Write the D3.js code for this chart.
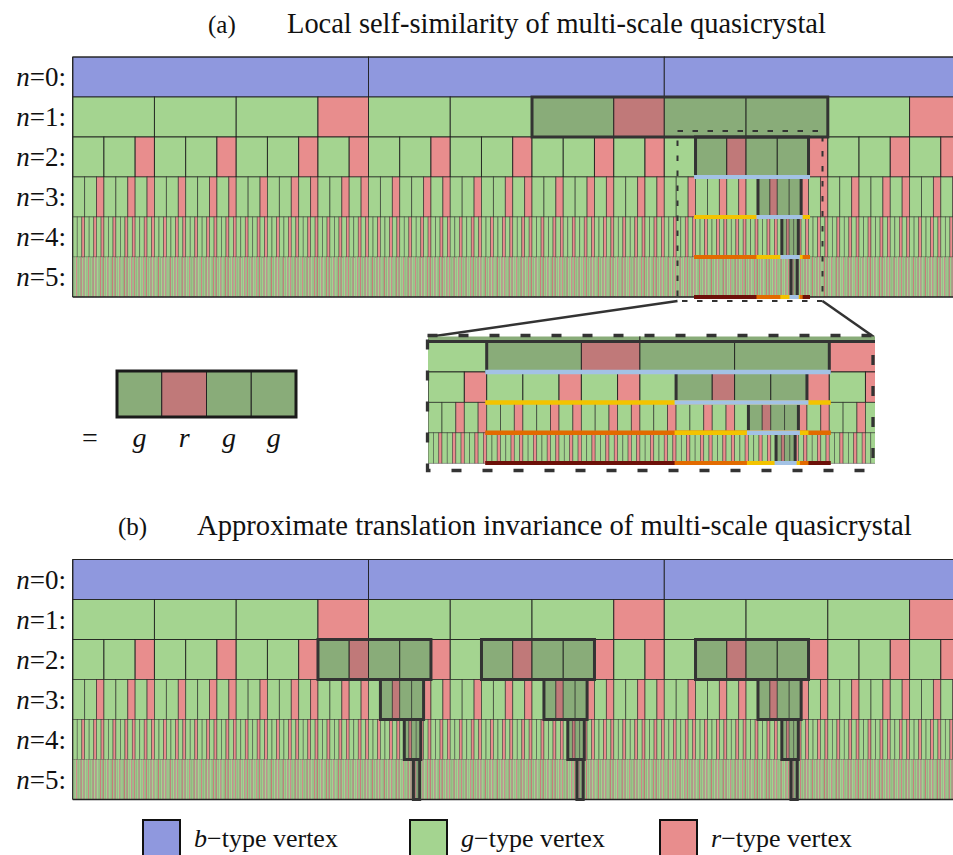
<!DOCTYPE html>
<html><head><meta charset="utf-8">
<script src="https://cdn.jsdelivr.net/npm/d3@7"></script>
<style>body{margin:0;background:#fff;overflow:hidden} svg{display:block}</style>
</head><body>
<svg id="c" width="953" height="855"></svg>
<script>
// ---------------- data ----------------
const levels = [0, 1, 2, 3, 4, 5];
const topSequence = ["b", "b", "b"];
const substitution = { b: ["g", "g", "g", "r"], g: ["g", "g", "r"], r: ["g", "r"] };
const tileWeight = { g: 1.618, r: 1 };           // relative tile lengths at finest level
const motif = ["g", "r", "g", "g"];              // highlighted pattern
const motifChildSlice = [6, 10];                 // motif position among the motif's children
const highlightA = { level: 1, start: 6 };
const highlightsB = [{ level: 2, start: 9 }, { level: 2, start: 15 }, { level: 2, start: 23 }];
const lineColors = ["#a3c2e5", "#f3c300", "#e26b00", "#6d1109"];
const typeColors = { b: "#8f98de", g: "#a4d490", r: "#e88d8d" };
const darkColors = { b: "#757dba", g: "#89ac79", r: "#c07979" };
const titles = [
  { tag: "(a)", text: "Local self-similarity of multi-scale quasicrystal" },
  { tag: "(b)", text: "Approximate translation invariance of multi-scale quasicrystal" }
];
const legendTypes = ["b", "g", "r"];
const legendSuffix = "\u2212type vertex";

const serif = "'Liberation Serif', 'DejaVu Serif', serif";

// ---------------- structure ----------------
function build(type, n) {
  return n === 5 ? { type } : { type, children: substitution[type].map(t => build(t, n + 1)) };
}
const root = d3.hierarchy({ type: "root", children: topSequence.map(t => build(t, 0)) })
  .sum(d => d.children ? 0 : tileWeight[d.type]);
d3.partition().size([root.value, 7])(root);
const all = root.descendants();
const byLevel = levels.map(n => all.filter(d => d.depth === n + 1));

function chain(h) {
  const out = {};
  let nodes = byLevel[h.level].slice(h.start, h.start + motif.length);
  for (let n = h.level; n <= 5; n++) {
    out[n] = nodes;
    if (n < 5) nodes = nodes.flatMap(d => d.children).slice(motifChildSlice[0], motifChildSlice[1]);
  }
  return out;
}
const ext = nodes => ({ x0: nodes[0].x0, x1: nodes[nodes.length - 1].x1 });

const svg = d3.select("#c");

function strokeFor(w) {
  if (w >= 25) return { w: 1, o: 0.85 };
  if (w >= 10) return { w: 0.9, o: 0.62 };
  if (w >= 4) return { w: 0.75, o: 0.52 };
  return { w: 0.5, o: 0.25 };
}

function drawCells(g, x, y, dark, lv, xmin, xmax) {
  lv.forEach(n => {
    const nodes = byLevel[n].filter(d => x(d.x1) >= xmin && x(d.x0) <= xmax);
    const gw = d3.max(byLevel[n], d => x(d.x1) - x(d.x0));
    const st = strokeFor(gw);
    g.append("g").selectAll("rect").data(nodes).join("rect")
      .attr("x", d => x(d.x0)).attr("y", y(n))
      .attr("width", d => x(d.x1) - x(d.x0)).attr("height", y(n + 1) - y(n))
      .attr("fill", d => dark.has(d) ? darkColors[d.data.type] : typeColors[d.data.type])
      .attr("stroke", "#1b1b1b").attr("stroke-width", st.w).attr("stroke-opacity", st.o);
  });
}

function drawHighlights(g, x, y, ch) {
  Object.keys(ch).forEach(k => {
    const n = +k, e = ext(ch[n]);
    g.append("rect").attr("x", x(e.x0)).attr("y", y(n))
      .attr("width", x(e.x1) - x(e.x0)).attr("height", y(n + 1) - y(n))
      .attr("fill", "none").attr("stroke", "#333").attr("stroke-width", 3);
  });
}

function drawScaleLines(g, x, y, ch, sw) {
  for (let k = 2; k <= 5; k++) {
    for (let j = 2; j <= k; j++) {
      const e = ext(ch[j]);
      g.append("line").attr("x1", x(e.x0) - 1.5).attr("x2", x(e.x1) + 1.5)
        .attr("y1", y(k + 1)).attr("y2", y(k + 1))
        .attr("stroke", lineColors[k - j]).attr("stroke-width", sw);
    }
  }
}

function drawFrame(g, x, y) {
  const x0 = x(0), x1 = x(root.value);
  g.append("line").attr("x1", x0).attr("x2", x0).attr("y1", y(0)).attr("y2", y(6)).attr("stroke", "#222").attr("stroke-width", 1.2);
  g.append("line").attr("x1", x0).attr("x2", x1).attr("y1", y(0)).attr("y2", y(0)).attr("stroke", "#222").attr("stroke-width", 1);
  g.append("line").attr("x1", x0).attr("x2", x1).attr("y1", y(6)).attr("y2", y(6)).attr("stroke", "#222").attr("stroke-width", 1.4);
}

function drawRowLabels(g, y) {
  levels.forEach(n => {
    const t = g.append("text").attr("x", 66).attr("y", (y(n) + y(n + 1)) / 2 + 9)
      .attr("text-anchor", "end").style("font-family", serif).attr("font-size", 27).attr("fill", "#111");
    t.append("tspan").attr("font-style", "italic").text("n");
    t.append("tspan").text("=" + n + ":");
  });
}

function fitText(sel, target) {
  const w = sel.node().getComputedTextLength();
  const fs = +sel.attr("font-size");
  sel.attr("font-size", Math.max(20, Math.min(30, fs * target / w)));
}

function drawTitle(t, tagX, textX, textW, baseY) {
  svg.append("text").attr("x", tagX).attr("y", baseY).style("font-family", serif)
    .attr("font-size", 25).attr("fill", "#111").text(t.tag);
  const s = svg.append("text").attr("x", textX).attr("y", baseY).style("font-family", serif)
    .attr("font-size", 25).attr("fill", "#111").text(t.text);
  fitText(s, textW);
}

// ---------------- scales ----------------
const X0 = 72.7, B_W = 295.8;
const xMain = d3.scaleLinear().domain([0, root.value / topSequence.length]).range([X0, X0 + B_W]);
const yA = d3.scaleLinear().domain([0, 6]).range([57, 297]);
const yB = d3.scaleLinear().domain([0, 6]).range([559.5, 799.5]);

// ---------------- panel (a) ----------------
drawTitle(titles[0], 208, 287, 539, 33);
const chA = chain(highlightA);
const darkA = new Set(Object.values(chA).flat());
const gA = svg.append("g");
drawCells(gA, xMain, yA, darkA, levels, 0, 953);
drawFrame(gA, xMain, yA);
drawHighlights(gA, xMain, yA, chA);
drawScaleLines(gA, xMain, yA, chA, 4);
drawRowLabels(svg.append("g"), yA);

// zoom window + connectors
svg.append("rect").attr("x", 677.5).attr("y", 131).attr("width", 145).attr("height", 170)
  .attr("fill", "none").attr("stroke", "#333").attr("stroke-width", 2).attr("stroke-dasharray", "5.5,9.5");
svg.append("line").attr("x1", 677.5).attr("y1", 301).attr("x2", 428).attr("y2", 337)
  .attr("stroke", "#333").attr("stroke-width", 2.5);
svg.append("line").attr("x1", 822.5).attr("y1", 301).attr("x2", 874).attr("y2", 337)
  .attr("stroke", "#333").attr("stroke-width", 2.5);

// inset (magnified view of the zoom window)
const e2 = ext(chA[2]);
const xIn = d3.scaleLinear().domain([e2.x0, e2.x1]).range([486.7, 829.3]);
const yIn = d3.scaleLinear().domain([2, 6]).range([341.5, 463.3]);
svg.append("defs").append("clipPath").attr("id", "insetClip")
  .append("rect").attr("x", 428).attr("y", 336.5).attr("width", 447).attr("height", 128.5);
const gIn = svg.append("g").attr("clip-path", "url(#insetClip)");
drawCells(gIn, xIn, yIn, darkA, [1, 2, 3, 4, 5], 420, 880);
drawHighlights(gIn, xIn, yIn, chA);
drawScaleLines(gIn, xIn, yIn, chA, 4.5);
svg.append("rect").attr("x", 427.5).attr("y", 335.5).attr("width", 445.5).attr("height", 135)
  .attr("fill", "none").attr("stroke", "#333").attr("stroke-width", 3.3).attr("stroke-dasharray", "10,21");

// motif key
const mx = d3.scaleBand().domain(d3.range(motif.length)).range([117, 296]);
const gM = svg.append("g");
gM.selectAll("rect").data(motif).join("rect")
  .attr("x", (d, i) => mx(i)).attr("y", 371).attr("width", mx.bandwidth()).attr("height", 46)
  .attr("fill", d => darkColors[d]).attr("stroke", "#222").attr("stroke-width", 1);
gM.append("rect").attr("x", 117).attr("y", 371).attr("width", 179).attr("height", 46)
  .attr("fill", "none").attr("stroke", "#1a1a1a").attr("stroke-width", 3);
gM.append("text").attr("x", 90).attr("y", 447).attr("text-anchor", "middle")
  .style("font-family", serif).attr("font-size", 28).attr("fill", "#111").text("=");
gM.selectAll("text.m").data(motif).join("text").attr("class", "m")
  .attr("x", (d, i) => mx(i) + mx.bandwidth() / 2).attr("y", 447).attr("text-anchor", "middle")
  .style("font-family", serif).attr("font-style", "italic").attr("font-size", 28).attr("fill", "#111").text(d => d);

// ---------------- panel (b) ----------------
drawTitle(titles[1], 118, 197, 715, 535);
const chBs = highlightsB.map(chain);
const darkB = new Set(chBs.flatMap(c => Object.values(c).flat()));
const gB = svg.append("g");
drawCells(gB, xMain, yB, darkB, levels, 0, 953);
drawFrame(gB, xMain, yB);
chBs.forEach(c => drawHighlights(gB, xMain, yB, c));
drawRowLabels(svg.append("g"), yB);

// ---------------- legend ----------------
const lxPos = { b: 143, g: 410, r: 660 };
const gL = svg.append("g");
legendTypes.forEach(t => {
  gL.append("rect").attr("x", lxPos[t]).attr("y", 820).attr("width", 37).attr("height", 38)
    .attr("fill", typeColors[t]).attr("stroke", "#111").attr("stroke-width", 2);
  const tx = gL.append("text").attr("x", lxPos[t] + 51).attr("y", 847)
    .style("font-family", serif).attr("font-size", 26).attr("fill", "#111");
  tx.append("tspan").attr("font-style", "italic").text(t);
  tx.append("tspan").text(legendSuffix);
});
</script>
</body></html>
